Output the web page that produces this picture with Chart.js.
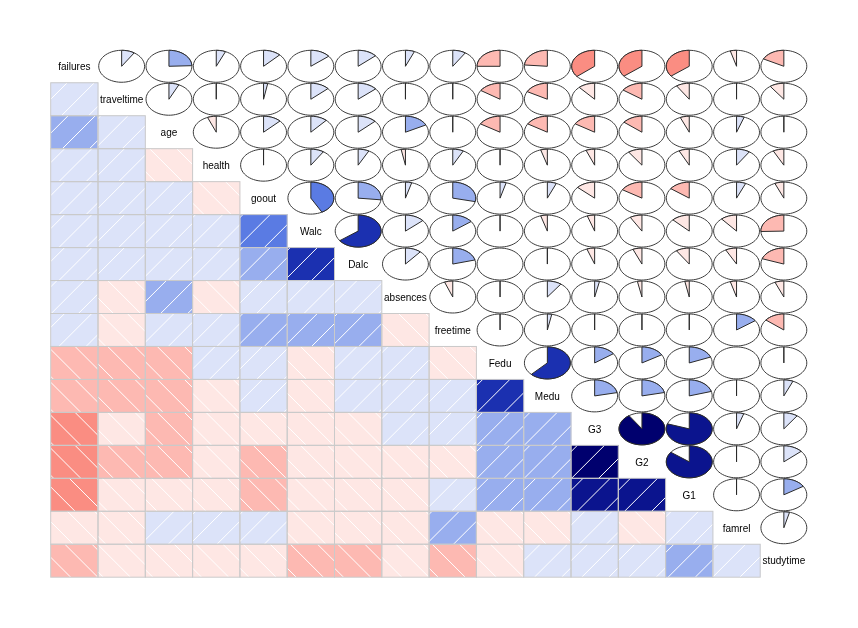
<!DOCTYPE html>
<html><head><meta charset="utf-8">
<script src="https://cdn.jsdelivr.net/npm/chart.js@4/dist/chart.umd.min.js"></script>
<style>html,body{margin:0;padding:0;background:#fff;} #wrap{width:858px;height:628px;position:relative;}</style>
</head><body><div id="wrap"><canvas id="c" width="858" height="628"></canvas></div>
<script>
// Variables in corrgram order
const vars = ['failures','traveltime','age','health','goout','Walc','Dalc','absences','freetime','Fedu','Medu','G3','G2','G1','famrel','studytime'];

// Correlation of each variable with the variables listed before it (lower triangle, by row)
const corTraveltime = [0.092];
const corAge        = [0.244, 0.071];
const corHealth     = [0.066, 0.010, -0.062];
const corGoout      = [0.124, 0.029, 0.127, -0.010];
const corWalc       = [0.142, 0.134, 0.117, 0.092, 0.420];
const corDalc       = [0.136, 0.138, 0.131, 0.077, 0.267, 0.648];
const corAbsences   = [0.064, -0.013, 0.175, -0.030, 0.044, 0.136, 0.112];
const corFreetime   = [0.092, -0.017, 0.016, 0.076, 0.285, 0.148, 0.209, -0.058];
const corFedu       = [-0.250, -0.158, -0.163, 0.015, 0.043, -0.013, 0.002, 0.024, -0.013];
const corMedu       = [-0.237, -0.171, -0.163, -0.047, 0.064, -0.047, 0.020, 0.100, 0.031, 0.623];
const corG3         = [-0.360, -0.117, -0.162, -0.061, -0.133, -0.052, -0.055, 0.034, 0.011, 0.152, 0.217];
const corG2         = [-0.356, -0.153, -0.143, -0.098, -0.162, -0.085, -0.064, -0.032, -0.014, 0.165, 0.216, 0.905];
const corG1         = [-0.355, -0.093, -0.064, -0.073, -0.149, -0.126, -0.094, -0.031, 0.013, 0.190, 0.205, 0.801, 0.852];
const corFamrel     = [-0.044, -0.017, 0.054, 0.094, 0.065, -0.113, -0.078, -0.044, 0.151, -0.001, -0.010, 0.051, -0.018, 0.022];
const corStudytime  = [-0.174, -0.101, -0.010, -0.076, -0.064, -0.254, -0.196, -0.063, -0.143, -0.009, 0.065, 0.098, 0.136, 0.161, 0.040];

// Data ranges of each variable (set the panel user coordinates -> hatch phase)
const varMin = [0, 1, 15, 1, 1, 1, 1, 0, 1, 0, 0, 0, 0, 3, 1, 1];
const varMax = [3, 4, 22, 5, 5, 5, 5, 75, 5, 4, 4, 20, 19, 19, 5, 4];

// 14-step red - salmon - white - royalblue - navy ramp (as it appears in the reference)
const palette = ['#FF0000','#FD1A17','#FB3D35','#F96456','#FA8D82','#FDB9B2','#FEE7E4',
                 '#DCE3F9','#98AEEE','#5A7BE3','#2C4ED3','#1B30B0','#0B148E','#00006E'];

const lowerRows = [[], corTraveltime, corAge, corHealth, corGoout, corWalc, corDalc, corAbsences,
  corFreetime, corFedu, corMedu, corG3, corG2, corG1, corFamrel, corStudytime];
const N = vars.length;
function corr(i, j) { if (i === j) return 1; return i > j ? lowerRows[i][j] : lowerRows[j][i]; }
function colorFor(r) {
  let k = Math.ceil((r + 1) * 7 - 1e-9) - 1;
  if (k < 0) k = 0; if (k > 13) k = 13;
  return palette[k];
}

const datasets = [];
for (let i = 1; i < N; i++) {
  datasets.push({
    label: vars[i],
    data: vars.map((_, j) => j < i ? [i, i + 1] : null),
    backgroundColor: vars.map((_, j) => j < i ? colorFor(corr(i, j)) : 'rgba(0,0,0,0)'),
    borderWidth: 0,
    grouped: false,
    categoryPercentage: 1,
    barPercentage: 1
  });
}

const DPI = 96, DENSITY = 5;
const corrgramPlugin = {
  id: 'corrgram',
  afterDatasetsDraw(chart) {
    const ctx = chart.ctx, xs = chart.scales.x, ys = chart.scales.y;
    const cw = xs.getPixelForValue(1) - xs.getPixelForValue(0);
    const s = (DPI / DENSITY) * Math.SQRT2; // horizontal spacing of 45deg hatch lines
    ctx.save();
    for (let i = 0; i < N; i++) {
      const yTop = ys.getPixelForValue(i), yBot = ys.getPixelForValue(i + 1);
      const ch = yBot - yTop, cy = (yTop + yBot) / 2;
      for (let j = 0; j < N; j++) {
        const cx = xs.getPixelForValue(j), x0 = cx - cw / 2, x1 = cx + cw / 2;
        if (j < i) {
          const r = corr(i, j);
          const xr = varMax[j] - varMin[j], yr = varMax[i] - varMin[i];
          const xlo = varMin[j] - 0.04 * xr, xhi = varMax[j] + 0.04 * xr;
          const ylo = varMin[i] - 0.04 * yr, yhi = varMax[i] + 0.04 * yr;
          const X0 = x0 + (0 - xlo) / (xhi - xlo) * cw;
          const Y0 = yBot - (0 - ylo) / (yhi - ylo) * ch;
          ctx.save();
          ctx.beginPath(); ctx.rect(x0, yTop, cw, ch); ctx.clip();
          ctx.strokeStyle = '#FFFFFF'; ctx.lineWidth = 1;
          ctx.beginPath();
          if (r > 0) {
            const base = X0 + Y0, lo = x0 + yTop, hi = x1 + yBot;
            let k = Math.floor((lo - base) / s);
            for (let c = base + k * s; c <= hi; c += s) {
              ctx.moveTo(c - yBot, yBot); ctx.lineTo(c - yTop, yTop);
            }
          } else {
            const base = X0 - Y0, lo = x0 - yBot, hi = x1 - yTop;
            let k = Math.floor((lo - base) / s);
            for (let c = base + k * s; c <= hi; c += s) {
              ctx.moveTo(c + yTop, yTop); ctx.lineTo(c + yBot, yBot);
            }
          }
          ctx.stroke();
          ctx.restore();
          ctx.strokeStyle = '#CACACA'; ctx.lineWidth = 1;
          ctx.strokeRect(x0, yTop, cw, ch);
        } else if (j > i) {
          const r = corr(i, j);
          const rx = cw / 2 * 0.97, ry = ch / 2 * 0.97;
          ctx.beginPath();
          for (let k = 0; k < 60; k++) {
            const a = 2 * Math.PI * k / 59;
            const px = cx + Math.cos(a) * rx, py = cy - Math.sin(a) * ry;
            if (k === 0) ctx.moveTo(px, py); else ctx.lineTo(px, py);
          }
          ctx.strokeStyle = '#3B3B3B'; ctx.lineWidth = 1; ctx.stroke();
          const seg = Math.round(60 * Math.abs(r));
          if (seg > 0) {
            ctx.beginPath();
            const a0 = Math.PI / 2, a1 = Math.PI / 2 - 2 * Math.PI * r;
            for (let k = 0; k < seg; k++) {
              const a = seg === 1 ? a0 : a0 + (a1 - a0) * k / (seg - 1);
              const px = cx + Math.cos(a) * rx, py = cy - Math.sin(a) * ry;
              if (k === 0) ctx.moveTo(px, py); else ctx.lineTo(px, py);
            }
            ctx.lineTo(cx, cy);
            ctx.closePath();
            ctx.fillStyle = colorFor(r); ctx.fill();
            ctx.strokeStyle = '#2A2A2A'; ctx.lineWidth = 1; ctx.stroke();
          }
        } else {
          ctx.fillStyle = '#000000';
          ctx.font = '10px "Liberation Sans", Arial, sans-serif';
          ctx.textAlign = 'center'; ctx.textBaseline = 'middle';
          ctx.fillText(vars[i], cx, cy + 1);
        }
      }
    }
    ctx.restore();
  }
};

new Chart(document.getElementById('c').getContext('2d'), {
  type: 'bar',
  data: { labels: vars, datasets },
  options: {
    responsive: false,
    devicePixelRatio: 1,
    animation: false,
    layout: { padding: { left: 50.7, right: 50.5, top: 49.8, bottom: 50.8 } },
    plugins: { legend: { display: false }, tooltip: { enabled: false }, title: { display: false } },
    scales: {
      x: { display: false, offset: true, grid: { display: false } },
      y: { display: false, min: 0, max: 16, reverse: true, grid: { display: false } }
    }
  },
  plugins: [corrgramPlugin]
});
</script>
</body></html>
